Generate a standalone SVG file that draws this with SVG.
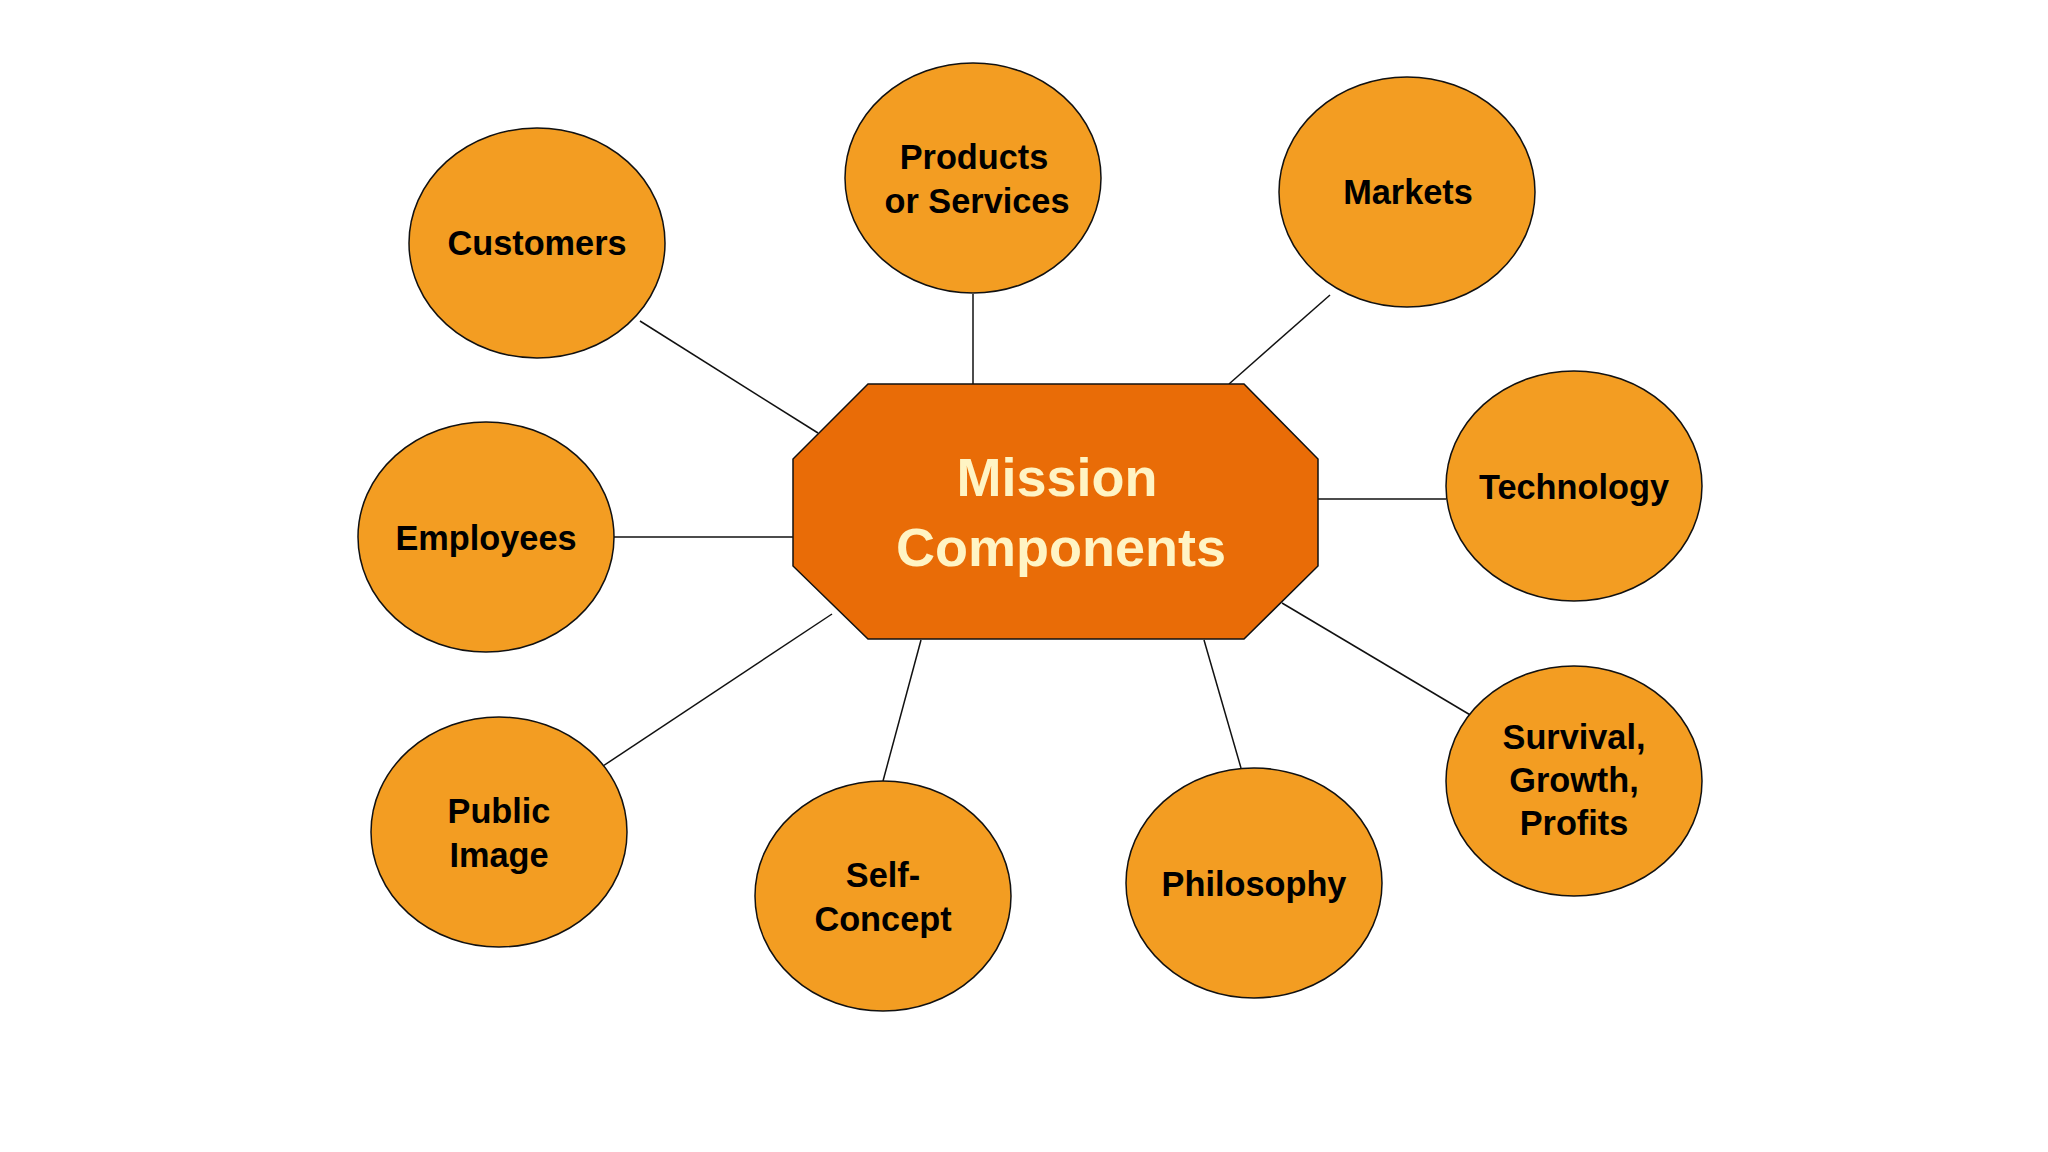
<svg xmlns="http://www.w3.org/2000/svg" width="2048" height="1152" viewBox="0 0 2048 1152">
<style>
.bg{fill:#ffffff}
.node ellipse{fill:#F39D22;stroke:#111111;stroke-width:1.5}
.lbl{font-family:"Liberation Sans",Arial,sans-serif;font-weight:bold;font-size:34.3px;fill:#000000;text-anchor:middle}
.hub{fill:#E96C07;stroke:#111111;stroke-width:1.5}
.hubtxt{font-family:"Liberation Sans",Arial,sans-serif;font-weight:bold;font-size:54px;fill:#FFF4C4;text-anchor:middle}
#connectors line{stroke:#111111;stroke-width:1.5}
</style>
<rect class="bg" x="0" y="0" width="2048" height="1152"/>
<g id="connectors">
<line x1="640" y1="321" x2="818" y2="433"/>
<line x1="973" y1="294" x2="973" y2="384"/>
<line x1="1330" y1="295" x2="1229" y2="384"/>
<line x1="1318" y1="499" x2="1446" y2="499"/>
<line x1="614" y1="537" x2="793" y2="537"/>
<line x1="603" y1="766" x2="832" y2="614"/>
<line x1="883" y1="781" x2="921" y2="640"/>
<line x1="1241" y1="768" x2="1204" y2="640"/>
<line x1="1472" y1="716" x2="1282" y2="603"/>
</g>
<g id="mission-components">
<polygon class="hub" points="868,384 1244,384 1318,459 1318,566 1244,639 868,639 793,566 793,459"/>
<text class="hubtxt" x="1057" y="496">Mission</text>
<text class="hubtxt" x="1061" y="566">Components</text>
</g>
<g id="customers" class="node">
<ellipse cx="537" cy="243" rx="128" ry="115"/>
<text class="lbl" x="537" y="255">Customers</text>
</g>
<g id="products-services" class="node">
<ellipse cx="973" cy="178" rx="128" ry="115"/>
<text class="lbl" x="974" y="169">Products</text>
<text class="lbl" x="977" y="213">or Services</text>
</g>
<g id="markets" class="node">
<ellipse cx="1407" cy="192" rx="128" ry="115"/>
<text class="lbl" x="1408" y="204">Markets</text>
</g>
<g id="technology" class="node">
<ellipse cx="1574" cy="486" rx="128" ry="115"/>
<text class="lbl" x="1574" y="499">Technology</text>
</g>
<g id="employees" class="node">
<ellipse cx="486" cy="537" rx="128" ry="115"/>
<text class="lbl" x="486" y="550">Employees</text>
</g>
<g id="public-image" class="node">
<ellipse cx="499" cy="832" rx="128" ry="115"/>
<text class="lbl" x="499" y="823">Public</text>
<text class="lbl" x="499" y="867">Image</text>
</g>
<g id="self-concept" class="node">
<ellipse cx="883" cy="896" rx="128" ry="115"/>
<text class="lbl" x="883" y="887">Self-</text>
<text class="lbl" x="883" y="931">Concept</text>
</g>
<g id="philosophy" class="node">
<ellipse cx="1254" cy="883" rx="128" ry="115"/>
<text class="lbl" x="1254" y="896">Philosophy</text>
</g>
<g id="survival-growth-profits" class="node">
<ellipse cx="1574" cy="781" rx="128" ry="115"/>
<text class="lbl" x="1574" y="749">Survival,</text>
<text class="lbl" x="1574" y="792">Growth,</text>
<text class="lbl" x="1574" y="835">Profits</text>
</g>
</svg>
